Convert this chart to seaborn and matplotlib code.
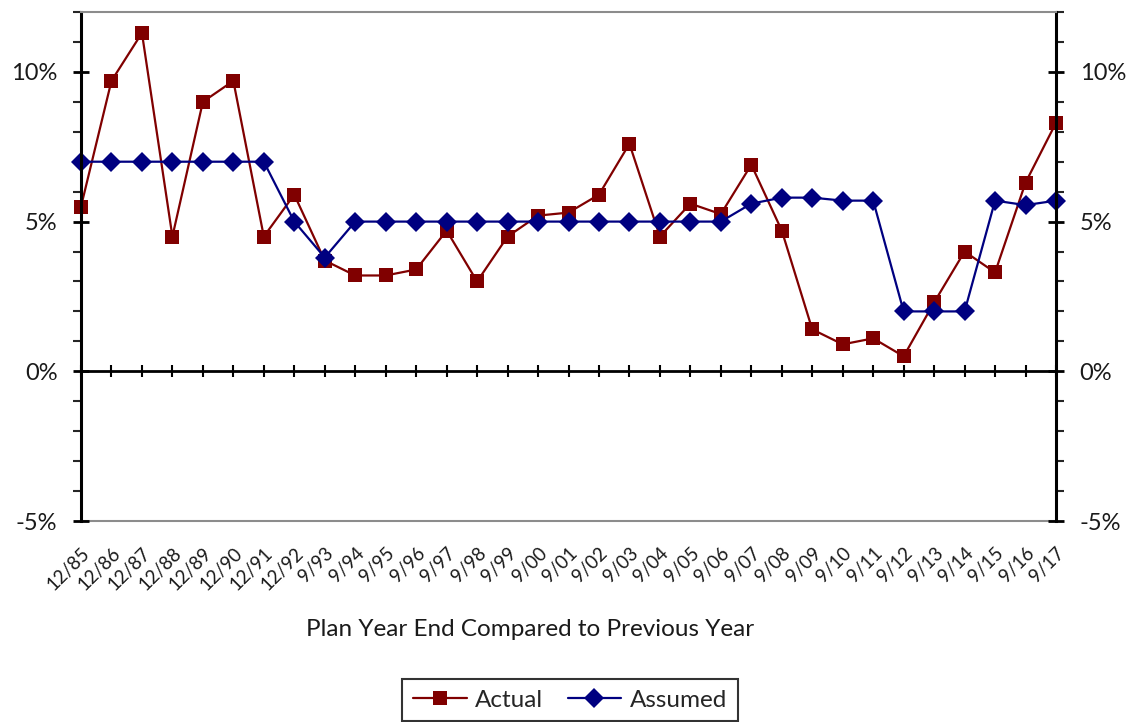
import matplotlib
matplotlib.use("Agg")
import matplotlib.pyplot as plt
from matplotlib.ticker import MultipleLocator, FuncFormatter, FixedLocator
import numpy as np
import pandas as pd
import seaborn as sns

# Plan year ends
periods = ["12/85", "12/86", "12/87", "12/88", "12/89", "12/90", "12/91", "12/92",
           "9/93", "9/94", "9/95", "9/96", "9/97", "9/98", "9/99", "9/00", "9/01",
           "9/02", "9/03", "9/04", "9/05", "9/06", "9/07", "9/08", "9/09", "9/10",
           "9/11", "9/12", "9/13", "9/14", "9/15", "9/16", "9/17"]

# Rate of return (%) versus previous year
actual = [5.5, 9.7, 11.3, 4.5, 9.0, 9.7, 4.5, 5.9,
          3.7, 3.2, 3.2, 3.4, 4.7, 3.0, 4.5, 5.2, 5.3,
          5.9, 7.6, 4.5, 5.6, 5.25, 6.9, 4.7, 1.4, 0.9,
          1.1, 0.5, 2.3, 4.0, 3.3, 6.3, 8.3]
assumed = [7.0, 7.0, 7.0, 7.0, 7.0, 7.0, 7.0, 5.0,
           3.8, 5.0, 5.0, 5.0, 5.0, 5.0, 5.0, 5.0, 5.0,
           5.0, 5.0, 5.0, 5.0, 5.0, 5.6, 5.8, 5.8, 5.7,
           5.7, 2.0, 2.0, 2.0, 5.7, 5.55, 5.7]

series_names = ["Actual", "Assumed"]
y_ticks = [-5, 0, 5, 10]

idx = np.arange(len(periods))
df = pd.DataFrame({
    "pos": np.concatenate([idx, idx]),
    "value": actual + assumed,
    "series": ["Actual"] * len(periods) + ["Assumed"] * len(periods),
})

sns.set_theme(style="white")
plt.rcParams["font.family"] = ["Lato", "DejaVu Sans"]

fig = plt.figure(figsize=(11.36, 7.22), dpi=100)
ax = fig.add_axes([81 / 1136, 1 - 521 / 722, (1056 - 81) / 1136, (521 - 12) / 722])

sns.lineplot(
    data=df, x="pos", y="value", hue="series", style="series",
    hue_order=series_names, style_order=series_names,
    palette={"Actual": "#800000", "Assumed": "#000080"},
    markers={"Actual": "s", "Assumed": "D"}, dashes=False,
    markersize=10.5, markeredgewidth=0, linewidth=1.6,
    ax=ax, legend=True,
)
for line in ax.get_lines():
    line.set_clip_on(False)

ax.set_xlim(0, len(periods) - 1)
ax.set_ylim(-5, 12)

# y axis on both sides, percent labels
ax.yaxis.set_major_locator(FixedLocator(y_ticks))
ax.yaxis.set_minor_locator(MultipleLocator(1))
ax.yaxis.set_major_formatter(FuncFormatter(lambda v, p: f"{v:.0f}%"))
ax.yaxis.set_ticks_position("both")
ax.tick_params(axis="y", which="major", direction="inout", length=12, width=2,
               labelsize=17, labelleft=True, labelright=True, pad=11, colors="black")
ax.tick_params(axis="y", which="minor", direction="out", length=6, width=1.5,
               left=True, right=True)
for lbl in ax.get_yticklabels():
    lbl.set_color("#1a1a1a")

# zero line carries the category ticks
ax.spines["bottom"].set_position(("data", 0))
ax.spines["bottom"].set_linewidth(2)
ax.spines["bottom"].set_color("black")
ax.set_xticks(idx)
ax.tick_params(axis="x", which="major", direction="inout", length=9, width=1.5,
               labelbottom=False, bottom=True, colors="black")
ax.xaxis.set_minor_locator(plt.NullLocator())

for side in ("left", "right"):
    ax.spines[side].set_linewidth(2.2)
    ax.spines[side].set_color("black")
ax.spines["top"].set_color("#8c8c8c")
ax.spines["top"].set_linewidth(1.5)

# lower frame edge with the period labels
sec = ax.secondary_xaxis(0.0)
sec.set_xticks(idx)
sec.set_xticklabels(periods, rotation=45, ha="right", va="top",
                    rotation_mode="anchor", fontsize=13.5, color="#1a1a1a")
sec.tick_params(axis="x", length=0, pad=17)
sec.spines["bottom"].set_color("#8c8c8c")
sec.spines["bottom"].set_linewidth(1.5)

ax.set_xlabel("")
ax.set_ylabel("")
fig.text(530 / 1136, 1 - 630 / 722, "Plan Year End Compared to Previous Year",
         ha="center", va="center", fontsize=17.5, color="#1a1a1a")

handles, labels = ax.get_legend_handles_labels()
ax.get_legend().remove()
leg = fig.legend(handles, labels, loc="center", bbox_to_anchor=(570 / 1136, 1 - 700 / 722),
                 ncol=2, frameon=True, fancybox=False, edgecolor="black",
                 fontsize=17.5, handlelength=2.2, columnspacing=1.0, handletextpad=0.35,
                 borderpad=0.45)
leg.get_frame().set_linewidth(1.5)

fig.savefig("out.png", dpi=100)
